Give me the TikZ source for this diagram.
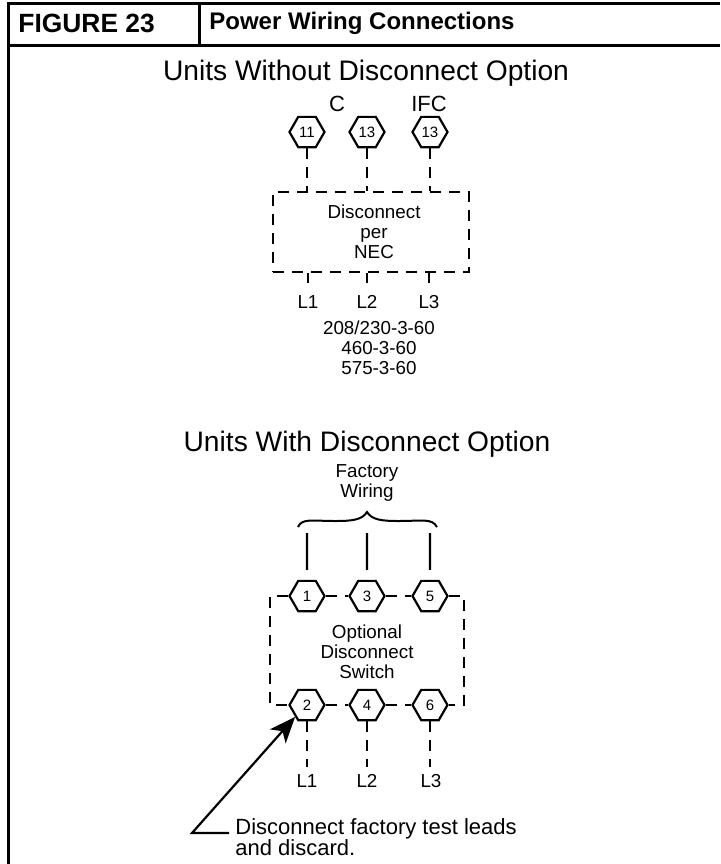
\documentclass[tikz,border=0pt]{standalone}
\usepackage{fontspec}
\setmainfont{Liberation Sans}
\usetikzlibrary{positioning, calc, arrows.meta, shapes.geometric}
\tikzset{
    rule/.style={line width=1.5pt, line cap=butt},
    hexa/.style={draw, regular polygon, regular polygon sides=6, minimum size=17.5pt, inner sep=0pt, line width=1.1pt, font=\fontsize{7.5}{8}\selectfont},
    dash wire/.style={line width=1.1pt, dash pattern=on 5.5pt off 4pt},
    solid wire/.style={line width=1.1pt},
    heading/.style={font=\fontsize{14.1}{16}\selectfont},
    label/.style={align=center, inner sep=0pt, font=\fontsize{9.4}{10}\selectfont}
}

\begin{document}
\begin{tikzpicture}[x=0.5pt, y=-0.5pt]
        \useasboundingbox (0,0) rectangle (720,864);
        %Frames
        \draw[rule] (720,3) -- (8,3) -- (8,864);
        \draw[rule] (8,45) -- (720,45);
        \draw[rule] (199,3) -- (199,45);
        \node[inner sep=0pt, anchor=west, font=\fontsize{13.2}{15}\bfseries\selectfont] (figno) at (18,23) {FIGURE 23};
        \node[inner sep=0pt, anchor=west, font=\fontsize{12}{14}\bfseries\selectfont] (figname) at (209,23) {Power Wiring Connections};
        %Upper diagram
        \node[heading] (upper) at (366,73) {Units Without Disconnect Option};
        \node[draw, dash wire, minimum width=98pt, minimum height=40pt, inner sep=0pt] (nec) at (371,232) {};
        \node[label] (neclabel) at (374,232) {Disconnect\\per\\NEC};
        \node[hexa] (u1) at (307,132) {11};
        \node[hexa] (u2) at (367,132) {13};
        \node[hexa] (u3) at (430,132) {13};
        \node[label, font=\fontsize{11}{12}\selectfont] (cname) at (337,104) {C};
        \node[label, font=\fontsize{11}{12}\selectfont] (ifcname) at (429,104) {IFC};
        \node[label] (ul1) at (308,302) {L1};
        \node[label] (ul2) at (367,302) {L2};
        \node[label] (ul3) at (429,302) {L3};
        \node[label] (volts) at (379,348) {208/230-3-60\\460-3-60\\575-3-60};
        \foreach \i in {1,2,3}{
            \draw[dash wire] (u\i.south) -- (u\i.south |- nec.north);
            \draw[dash wire, shorten >=6pt] (ul\i.north |- nec.south) -- (ul\i.north);
        }
        %Lower diagram
        \node[heading] (lower) at (367,444) {Units With Disconnect Option};
        \node[label] (factory) at (367,483) {Factory\\Wiring};
        \node[label] (optional) at (367,652) {Optional\\Disconnect\\Switch};
        \node[hexa] (t1) at (307,596) {1};
        \node[hexa] (t3) at (367,596) {3};
        \node[hexa] (t5) at (430,596) {5};
        \node[hexa] (t2) at (307,705) {2};
        \node[hexa] (t4) at (367,705) {4};
        \node[hexa] (t6) at (430,705) {6};
        \node[label] (l1) at (307,781) {L1};
        \node[label] (l2) at (367,781) {L2};
        \node[label] (l3) at (431,781) {L3};
        \coordinate (NW) at (270,596); \coordinate (NE) at (464,596);
        \coordinate (SW) at (270,705); \coordinate (SE) at (464,705);
        \draw[dash wire] (t1.west) -- (NW) -- (SW) -- (t2.west);
        \draw[dash wire] (t5.east) -- (NE) -- (SE) -- (t6.east);
        \draw[dash wire] (t1.east) -- (t3.west);
        \draw[dash wire] (t3.east) -- (t5.west);
        \draw[dash wire] (t2.east) -- (t4.west);
        \draw[dash wire] (t4.east) -- (t6.west);
        \foreach \top/\bot in {t2/l1,t4/l2,t6/l3}{
            \draw[dash wire, shorten >=3.5pt] (\top.south) -- (\bot.north -| \top.south);
        }
        %Factory wires and brace
        \foreach \i/\x in {1/307,3/367,5/430}{
            \coordinate (w\i) at (\x,533);
            \draw[solid wire, shorten >=5pt] (w\i) -- (t\i.north);
        }
        \draw[line width=1pt] (298,527) .. controls (302,518) and (312,521) .. (335,521) .. controls (352,521) and (362,520) .. (367,512) .. controls (372,520) and (382,521) .. (399,521) .. controls (422,521) and (432,518) .. (437,527);
        %Note
        \node[label, anchor=west, align=left, font=\fontsize{11}{10.5}\selectfont] (note) at (235,837) {Disconnect factory test leads\\and discard.};
        \coordinate (bend) at (192,833);
        \draw[line width=1.1pt, -{Stealth[length=13pt, width=10.5pt, inset=3.5pt]}] (note.west |- bend) ++(-6,0) -- (bend) -- (t2.south west);
\end{tikzpicture}
\end{document}
